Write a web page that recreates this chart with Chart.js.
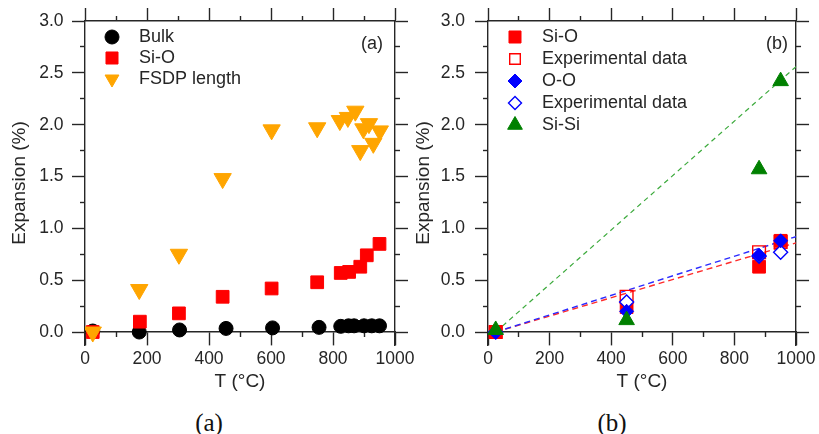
<!DOCTYPE html>
<html><head><meta charset="utf-8">
<script src="https://cdn.jsdelivr.net/npm/chart.js@4/dist/chart.umd.min.js"></script>
<style>
html,body{margin:0;padding:0;background:#fff;width:819px;height:434px;overflow:hidden;}
#wrap{position:relative;width:819px;height:434px;}
#ca{position:absolute;left:0;top:0;}
#cb{position:absolute;left:410px;top:0;}
.cap{position:absolute;top:408px;font-family:"Liberation Serif","DejaVu Serif",serif;font-size:25px;line-height:30px;color:#111;width:120px;text-align:center;}
</style></head><body>
<div id="wrap">
<canvas id="ca" width="420" height="400"></canvas>
<canvas id="cb" width="409" height="400"></canvas>
<div class="cap" style="left:149px">(a)</div>
<div class="cap" style="left:552px">(b)</div>
</div>
<script>
// ---- tick values ----
const T_MAJOR = [0, 200, 400, 600, 800, 1000];
const T_MINOR = [100, 300, 500, 700, 900];
const Y_MAJOR = [0, 0.5, 1.0, 1.5, 2.0, 2.5, 3.0];
const Y_MINOR = [0.25, 0.75, 1.25, 1.75, 2.25, 2.75];

// ---- panel (a) ----
const bulkT = [25, 175, 305, 455, 605, 755, 825, 850, 868, 900, 925, 950];
const bulkV = [0.01, 0.0, 0.02, 0.035, 0.04, 0.045, 0.055, 0.06, 0.06, 0.06, 0.06, 0.06];
const sioT  = [25, 177, 303, 444, 602, 749, 825, 852, 888, 909, 950];
const sioV  = [0.0, 0.10, 0.18, 0.34, 0.42, 0.48, 0.57, 0.58, 0.63, 0.74, 0.85];
const fsdpT = [25, 175, 303, 444, 602, 749, 822, 848, 872, 888, 898, 916, 930, 951];
const fsdpV = [0.0, 0.41, 0.75, 1.48, 1.95, 1.97, 2.04, 2.07, 2.13, 1.75, 1.96, 2.01, 1.82, 1.94];

// ---- panel (b) ----
const bT       = [25, 450, 880, 950];
const bSiO     = [0.0, 0.24, 0.63, 0.88];
const bSiOExp  = [0.0, 0.34, 0.77, 0.87];
const bOO      = [0.0, 0.20, 0.74, 0.88];
const bOOExp   = [0.0, 0.29, 0.73, 0.77];
const bSiSi    = [0.02, 0.115, 1.57, 2.42];
const fitT     = [25, 1000];
const fitSiO   = [0.0, 0.86];
const fitOO    = [0.0, 0.92];
const fitSiSi  = [0.0, 2.56];

const AX = '#262626';
const FONT = '"Liberation Sans", Arial, Helvetica, sans-serif';
Chart.defaults.font.family = FONT;

const pts = (xs, ys) => xs.map((x, i) => ({x: x, y: ys[i]}));
const fix = arr => s => { s.ticks = arr.map(v => ({value: v})); };

function buildScales(o) {
  const tickFont = {family: FONT, size: 17.5};
  return {
    x: {type: 'linear', axis: 'x', min: 0, max: 1000, position: {y: 0},
        afterBuildTicks: fix(T_MAJOR),
        ticks: {font: tickFont, color: AX, padding: 3.5, maxRotation: 0, autoSkip: false, callback: v => String(v)},
        grid: {drawOnChartArea: false, tickLength: 13, tickColor: AX, tickWidth: 1.4},
        border: {display: true, color: AX, width: 1.4},
        title: {display: true, text: 'T (°C)', font: {family: FONT, size: 19}, color: AX, padding: 0},
        afterFit: s => { s.height = 61.4; }},
    xMinor: {type: 'linear', axis: 'x', min: 0, max: 1000, position: {y: 0},
        afterBuildTicks: fix(T_MINOR),
        ticks: {display: false},
        grid: {drawOnChartArea: false, tickLength: 5, tickColor: AX, tickWidth: 1.4},
        border: {display: false}},
    xTop: {type: 'linear', axis: 'x', min: 0, max: 1000, position: 'top',
        afterBuildTicks: fix(T_MAJOR),
        ticks: {display: false},
        grid: {drawOnChartArea: false, tickLength: 13, tickColor: AX, tickWidth: 1.4},
        border: {display: true, color: AX, width: 1.4},
        afterFit: s => { s.height = 0; }},
    xTopMinor: {type: 'linear', axis: 'x', min: 0, max: 1000, position: 'top',
        afterBuildTicks: fix(T_MINOR),
        ticks: {display: false},
        grid: {drawOnChartArea: false, tickLength: 5, tickColor: AX, tickWidth: 1.4},
        border: {display: false},
        afterFit: s => { s.height = 0; }},
    y: {type: 'linear', axis: 'y', min: -0.125, max: 3.0, position: 'left', weight: 2,
        afterBuildTicks: fix(Y_MAJOR),
        ticks: {font: tickFont, color: AX, padding: o.yPad, autoSkip: false, callback: v => Number(v).toFixed(1)},
        grid: {drawOnChartArea: false, tickLength: 13, tickColor: AX, tickWidth: 1.4},
        border: {display: true, color: AX, width: 1.4},
        title: {display: true, text: 'Expansion (%)', font: {family: FONT, size: 19}, color: AX, padding: {top: o.yTitlePad, bottom: 0}},
        afterFit: s => { s.width = o.yW; }},
    yMinor: {type: 'linear', axis: 'y', min: -0.125, max: 3.0, position: 'left', weight: 0,
        afterBuildTicks: fix(Y_MINOR),
        ticks: {display: false},
        grid: {drawOnChartArea: false, tickLength: 5, tickColor: AX, tickWidth: 1.4},
        border: {display: false},
        afterFit: s => { s.width = 0; }},
    yRight: {type: 'linear', axis: 'y', min: -0.125, max: 3.0, position: 'right',
        afterBuildTicks: fix(Y_MAJOR),
        ticks: {display: false},
        grid: {drawOnChartArea: false, tickLength: 13, tickColor: AX, tickWidth: 1.4},
        border: {display: true, color: AX, width: 1.4},
        afterFit: s => { s.width = 0; }},
    yRightMinor: {type: 'linear', axis: 'y', min: -0.125, max: 3.0, position: 'right',
        afterBuildTicks: fix(Y_MINOR),
        ticks: {display: false},
        grid: {drawOnChartArea: false, tickLength: 5, tickColor: AX, tickWidth: 1.4},
        border: {display: false},
        afterFit: s => { s.width = 0; }}
  };
}

function marker(ctx, style, x, y, r, rot, fill, stroke, lw) {
  ctx.save();
  ctx.translate(x, y);
  ctx.rotate((rot || 0) * Math.PI / 180);
  ctx.beginPath();
  if (style === 'circle') ctx.arc(0, 0, r, 0, 2 * Math.PI);
  else if (style === 'rect') { const s = r * Math.SQRT1_2; ctx.rect(-s, -s, 2 * s, 2 * s); }
  else if (style === 'rectRot') { ctx.moveTo(-r, 0); ctx.lineTo(0, -r); ctx.lineTo(r, 0); ctx.lineTo(0, r); ctx.closePath(); }
  else if (style === 'triangle') {
    for (let i = 0; i < 3; i++) {
      const a = i * 2 * Math.PI / 3;
      const px = Math.sin(a) * r, py = -Math.cos(a) * r;
      if (i) ctx.lineTo(px, py); else ctx.moveTo(px, py);
    }
    ctx.closePath();
  }
  ctx.fillStyle = fill; ctx.fill();
  if (lw > 0) { ctx.strokeStyle = stroke; ctx.lineWidth = lw; ctx.stroke(); }
  ctx.restore();
}

const insetLegend = {
  id: 'insetLegend',
  afterDraw(chart, args, o) {
    const ctx = chart.ctx;
    ctx.save();
    ctx.font = '18px ' + FONT;
    ctx.textBaseline = 'middle';
    ctx.textAlign = 'left';
    ctx.fillStyle = AX;
    o.items.forEach((idx, i) => {
      const ds = chart.data.datasets[idx];
      const y = o.y0 + i * o.dy;
      marker(ctx, ds.pointStyle, o.x, y, o.sizes[i], ds.pointRotation || 0,
             ds.pointBackgroundColor, ds.pointBorderColor, ds.pointBorderWidth || 0);
      ctx.fillStyle = AX;
      ctx.fillText(ds.label, o.tx, y);
    });
    ctx.textAlign = 'center';
    ctx.fillText(o.panel, o.px, o.py);
    ctx.restore();
  }
};

const baseOpts = {
  responsive: false, animation: false, devicePixelRatio: 1,
  events: []
};

// ---- chart (a) ----
new Chart(document.getElementById('ca'), {
  type: 'scatter',
  data: {datasets: [
    {label: 'Bulk', data: pts(bulkT, bulkV), xAxisID: 'x', yAxisID: 'y', pointStyle: 'circle', pointRadius: 7,
     pointBackgroundColor: '#000000', pointBorderColor: '#000000', pointBorderWidth: 1, order: 3},
    {label: 'Si-O', data: pts(sioT, sioV), xAxisID: 'x', yAxisID: 'y', pointStyle: 'rect', pointRadius: 9,
     pointBackgroundColor: '#ff0000', pointBorderColor: '#ff0000', pointBorderWidth: 1, order: 2},
    {label: 'FSDP length', data: pts(fsdpT, fsdpV), xAxisID: 'x', yAxisID: 'y', pointStyle: 'triangle', pointRotation: 180, pointRadius: 10,
     pointBackgroundColor: '#ffa500', pointBorderColor: '#ffa500', pointBorderWidth: 1, order: 1}
  ]},
  options: Object.assign({}, baseOpts, {
    layout: {padding: {top: 21, right: 25, bottom: 55, left: 0}},
    scales: buildScales({yW: 85, yPad: 8.5, yTitlePad: 8.6}),
    plugins: {legend: {display: false}, tooltip: {enabled: false},
      insetLegend: {items: [0, 1, 2], x: 112, tx: 139, y0: 37, dy: 21, sizes: [7, 8.5, 8], panel: '(a)', px: 372, py: 44}}
  }),
  plugins: [insetLegend]
});

// ---- chart (b) ----
new Chart(document.getElementById('cb'), {
  type: 'scatter',
  data: {datasets: [
    {label: 'Si-O', data: pts(bT, bSiO), xAxisID: 'x', yAxisID: 'y', pointStyle: 'rect', pointRadius: 9,
     pointBackgroundColor: '#ff0000', pointBorderColor: '#ff0000', pointBorderWidth: 1, order: 4},
    {label: 'Experimental data', data: pts(bT, bSiOExp), xAxisID: 'x', yAxisID: 'y', pointStyle: 'rect', pointRadius: 9,
     pointBackgroundColor: 'rgba(255,255,255,0)', pointBorderColor: '#ff0000', pointBorderWidth: 1.4, order: 5},
    {label: 'O-O', data: pts(bT, bOO), xAxisID: 'x', yAxisID: 'y', pointStyle: 'rectRot', pointRadius: 7,
     pointBackgroundColor: '#0000ff', pointBorderColor: '#0000ff', pointBorderWidth: 1, order: 2},
    {label: 'Experimental data', data: pts(bT, bOOExp), xAxisID: 'x', yAxisID: 'y', pointStyle: 'rectRot', pointRadius: 7,
     pointBackgroundColor: '#ffffff', pointBorderColor: '#0000ff', pointBorderWidth: 1.4, order: 3},
    {label: 'Si-Si', data: pts(bT, bSiSi), xAxisID: 'x', yAxisID: 'y', pointStyle: 'triangle', pointRadius: 9,
     pointBackgroundColor: '#008000', pointBorderColor: '#008000', pointBorderWidth: 1, order: 1},
    {label: 'fit Si-O', data: pts(fitT, fitSiO), xAxisID: 'x', yAxisID: 'y', showLine: true, pointRadius: 0,
     borderColor: '#ff2a2a', borderWidth: 1.4, borderDash: [6, 4], order: 8},
    {label: 'fit O-O', data: pts(fitT, fitOO), xAxisID: 'x', yAxisID: 'y', showLine: true, pointRadius: 0,
     borderColor: '#2a2aff', borderWidth: 1.4, borderDash: [6, 4], order: 7},
    {label: 'fit Si-Si', data: pts(fitT, fitSiSi), xAxisID: 'x', yAxisID: 'y', showLine: true, pointRadius: 0,
     borderColor: '#3caa3c', borderWidth: 1.2, borderDash: [5, 4], order: 6}
  ]},
  options: Object.assign({}, baseOpts, {
    layout: {padding: {top: 21, right: 21, bottom: 55, left: 0}},
    scales: buildScales({yW: 78, yPad: 10, yTitlePad: 2.6}),
    plugins: {legend: {display: false}, tooltip: {enabled: false},
      insetLegend: {items: [0, 1, 2, 3, 4], x: 105, tx: 132, y0: 37, dy: 22, sizes: [8.5, 7.5, 7, 6.5, 8.5], panel: '(b)', px: 367, py: 44}}
  }),
  plugins: [insetLegend]
});
</script>
</body></html>
